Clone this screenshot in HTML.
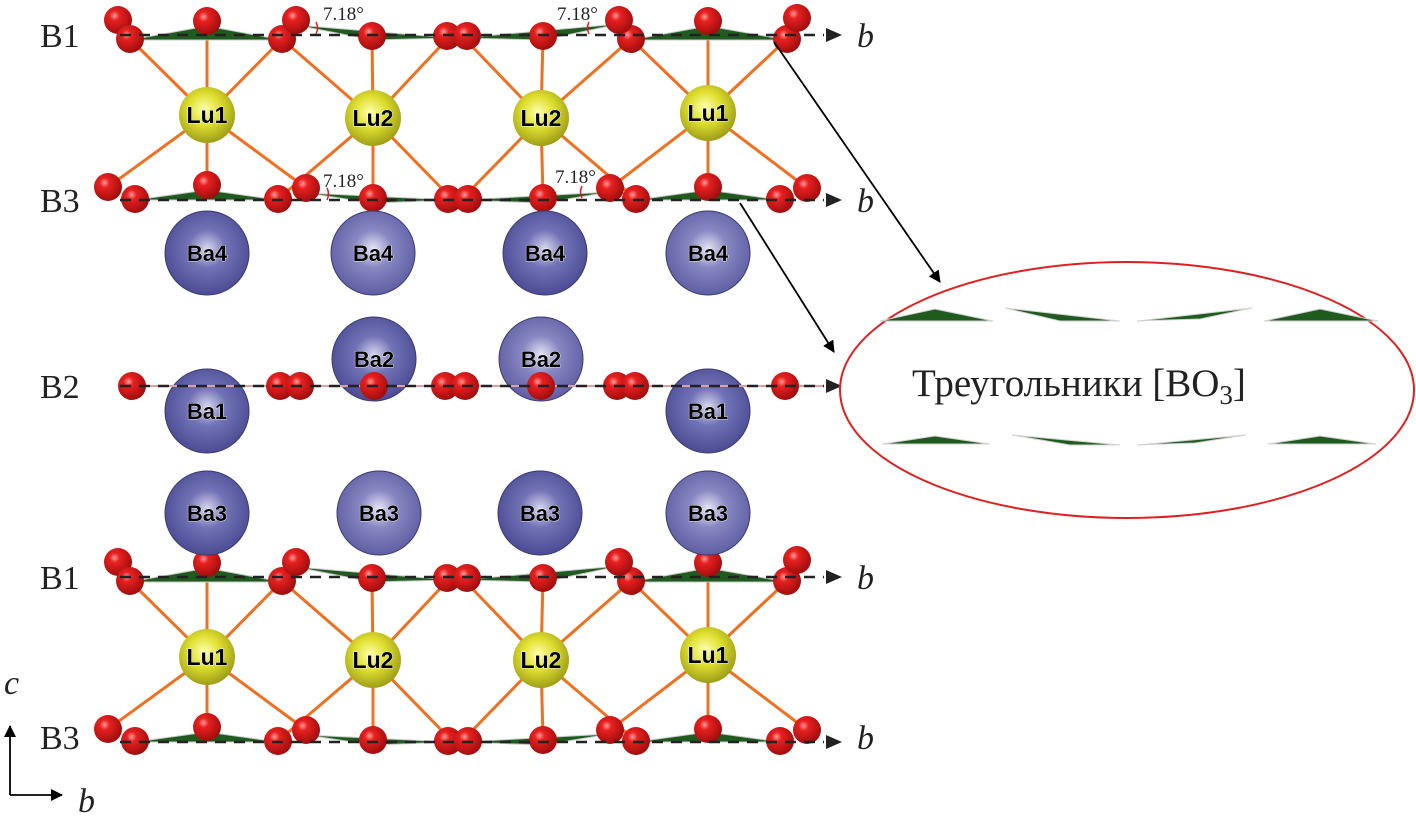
<!DOCTYPE html>
<html><head><meta charset="utf-8"><style>
html,body{margin:0;padding:0;background:#fff;}
svg{display:block;}
.lbl{font-family:"Liberation Serif",serif;font-size:34px;fill:#222;}
.ib{font-family:"Liberation Serif",serif;font-style:italic;font-size:34px;fill:#222;}
.ang{font-family:"Liberation Serif",serif;font-size:19px;fill:#222;}
.at{font-family:"Liberation Sans",sans-serif;font-weight:bold;font-size:23px;fill:#000;text-anchor:middle;stroke:#fff;stroke-width:0.8;paint-order:stroke;}
.ba{font-size:22px;}
</style></head><body>
<svg width="1416" height="824" viewBox="0 0 1416 824" xmlns="http://www.w3.org/2000/svg">
<defs>
<radialGradient id="gO" cx="0.38" cy="0.35" r="0.7"><stop offset="0" stop-color="#ff9a9a"/><stop offset="0.25" stop-color="#e82020"/><stop offset="1" stop-color="#9a0c0c"/></radialGradient>
<radialGradient id="gL" cx="0.45" cy="0.4" r="0.7"><stop offset="0" stop-color="#ffffb0"/><stop offset="0.4" stop-color="#e0e030"/><stop offset="1" stop-color="#8a8a10"/></radialGradient>
<radialGradient id="gB" cx="0.5" cy="0.45" r="0.65"><stop offset="0" stop-color="#d8d8f0"/><stop offset="0.35" stop-color="#7272b6"/><stop offset="1" stop-color="#40408a"/></radialGradient>
<radialGradient id="gB2" cx="0.5" cy="0.45" r="0.65"><stop offset="0" stop-color="#e6e6f6"/><stop offset="0.35" stop-color="#8787c2"/><stop offset="1" stop-color="#52529a"/></radialGradient>
<marker id="ah" markerWidth="12" markerHeight="12" refX="11" refY="6" orient="auto" markerUnits="userSpaceOnUse"><path d="M0,0 L12,6 L0,12 z" fill="#000"/></marker>
<g id="blk">
 <g stroke="#f07020" stroke-width="3">
  <line x1="207" y1="115" x2="130" y2="39"/><line x1="207" y1="115" x2="207" y2="21"/><line x1="207" y1="115" x2="282" y2="39"/>
  <line x1="207" y1="115" x2="108" y2="187"/><line x1="207" y1="115" x2="207" y2="183"/><line x1="207" y1="115" x2="306" y2="188"/>
  <line x1="373" y1="118" x2="282" y2="39"/><line x1="373" y1="118" x2="372" y2="36"/><line x1="373" y1="118" x2="450" y2="36"/>
  <line x1="373" y1="118" x2="278" y2="199"/><line x1="373" y1="118" x2="373" y2="198"/><line x1="373" y1="118" x2="452" y2="199"/>
  <line x1="541" y1="118" x2="462" y2="36"/><line x1="541" y1="118" x2="543" y2="36"/><line x1="541" y1="118" x2="631" y2="39"/>
  <line x1="541" y1="118" x2="462" y2="199"/><line x1="541" y1="118" x2="543" y2="198"/><line x1="541" y1="118" x2="636" y2="199"/>
  <line x1="708" y1="113" x2="631" y2="39"/><line x1="708" y1="113" x2="708" y2="21"/><line x1="708" y1="113" x2="787" y2="39"/>
  <line x1="708" y1="113" x2="610" y2="188"/><line x1="708" y1="113" x2="708" y2="188"/><line x1="708" y1="113" x2="807" y2="188"/>
 </g>
 <g fill="#1f5a1f" stroke="#c8c8c8" stroke-width="1">
  <polygon points="130,40 207,26 282,40"/><polygon points="296,25 372,40 450,38"/><polygon points="462,38 543,40 619,24"/><polygon points="631,40 708,26 787,40"/>
  <polygon points="135,200 207,190 278,200"/><polygon points="306,193 373,203 452,200"/><polygon points="462,200 543,203 610,192"/><polygon points="636,200 708,190 780,200"/>
 </g>
 <g fill="url(#gO)">
  <circle cx="118" cy="20" r="14"/><circle cx="130" cy="39" r="14"/><circle cx="207" cy="21" r="14"/><circle cx="282" cy="39" r="14"/><circle cx="296" cy="20" r="14"/>
  <circle cx="372" cy="36" r="14"/><circle cx="447" cy="36" r="14"/><circle cx="467" cy="36" r="14"/><circle cx="543" cy="36" r="14"/>
  <circle cx="631" cy="39" r="14"/><circle cx="619" cy="20" r="14"/><circle cx="708" cy="21" r="14"/><circle cx="787" cy="39" r="14"/><circle cx="797" cy="18" r="14"/>
  <circle cx="135" cy="199" r="14"/><circle cx="108" cy="187" r="14"/><circle cx="207" cy="185" r="14"/><circle cx="278" cy="199" r="14"/><circle cx="306" cy="188" r="14"/>
  <circle cx="373" cy="198" r="14"/><circle cx="448" cy="199" r="14"/><circle cx="468" cy="199" r="14"/><circle cx="543" cy="198" r="14"/>
  <circle cx="636" cy="199" r="14"/><circle cx="610" cy="188" r="14"/><circle cx="708" cy="187" r="14"/><circle cx="780" cy="199" r="14"/><circle cx="807" cy="188" r="14"/>
 </g>
 <g fill="url(#gL)">
  <circle cx="207" cy="115" r="28"/><circle cx="373" cy="118" r="28"/><circle cx="541" cy="118" r="28"/><circle cx="708" cy="113" r="28"/>
 </g>
 <g stroke="#222" stroke-width="2.5" stroke-dasharray="11,8" fill="none">
  <line x1="120" y1="35" x2="824" y2="35"/><line x1="120" y1="200" x2="824" y2="200"/>
 </g>
 <g fill="#222"><path d="M826,28 L842,35 L826,42 z"/><path d="M826,193 L842,200 L826,207 z"/></g>
</g>
</defs>
<use href="#blk"/>
<use href="#blk" transform="translate(0,542)"/>
<g stroke="#e02020" stroke-width="1.5" fill="none">
 <path d="M316,22 q3,6 0,12"/><path d="M589,22 q-3,6 0,12"/><path d="M327,188 q3,6 0,12"/><path d="M582,186 q-3,6 0,12"/>
</g>

<g stroke="#3a3a70" stroke-width="1">
 <circle cx="207" cy="253" r="42" fill="url(#gB)"/><circle cx="373" cy="253" r="42" fill="url(#gB2)"/><circle cx="545" cy="253" r="42" fill="url(#gB)"/><circle cx="708" cy="253" r="42" fill="url(#gB2)"/>
 <circle cx="374" cy="359" r="42" fill="url(#gB)"/><circle cx="541" cy="359" r="42" fill="url(#gB2)"/>
 <circle cx="207" cy="411" r="42" fill="url(#gB)"/><circle cx="708" cy="411" r="42" fill="url(#gB)"/>
 <circle cx="207" cy="513" r="42" fill="url(#gB)"/><circle cx="379" cy="513" r="42" fill="url(#gB2)"/><circle cx="540" cy="513" r="42" fill="url(#gB)"/><circle cx="708" cy="513" r="42" fill="url(#gB2)"/>
</g>
<line x1="130" y1="386" x2="824" y2="386" stroke="#e0a0a0" stroke-width="2"/>
<g fill="url(#gO)">
 <circle cx="132" cy="386" r="14"/><circle cx="280" cy="386" r="14"/><circle cx="300" cy="386" r="14"/><circle cx="374" cy="386" r="14"/>
 <circle cx="445" cy="386" r="14"/><circle cx="465" cy="386" r="14"/><circle cx="541" cy="386" r="14"/><circle cx="617" cy="386" r="14"/><circle cx="635" cy="386" r="14"/><circle cx="785" cy="386" r="14"/>
</g>
<line x1="120" y1="386" x2="824" y2="386" stroke="#222" stroke-width="2.5" stroke-dasharray="11,8"/>
<path d="M826,379 L842,386 L826,393 z" fill="#222"/>

<g class="at">
 <text x="207" y="123">Lu1</text><text x="373" y="126">Lu2</text><text x="541" y="126">Lu2</text><text x="708" y="121">Lu1</text>
 <text x="207" y="665">Lu1</text><text x="373" y="668">Lu2</text><text x="541" y="668">Lu2</text><text x="708" y="663">Lu1</text>
</g>
<g class="at ba">
 <text x="207" y="261">Ba4</text><text x="373" y="261">Ba4</text><text x="545" y="261">Ba4</text><text x="708" y="261">Ba4</text>
 <text x="374" y="367">Ba2</text><text x="541" y="367">Ba2</text>
 <text x="207" y="419">Ba1</text><text x="708" y="419">Ba1</text>
 <text x="207" y="521">Ba3</text><text x="379" y="521">Ba3</text><text x="540" y="521">Ba3</text><text x="708" y="521">Ba3</text>
</g>

<g class="lbl">
 <text x="40" y="47">B1</text><text x="40" y="212">B3</text><text x="40" y="398">B2</text><text x="40" y="589">B1</text><text x="40" y="749">B3</text>
</g>
<g class="ib">
 <text x="857" y="47">b</text><text x="857" y="212">b</text><text x="857" y="589">b</text><text x="857" y="749">b</text>
 <text x="4" y="694">c</text><text x="78" y="812">b</text>
</g>
<g class="ang">
 <text x="323" y="20">7.18°</text><text x="557" y="20">7.18°</text><text x="323" y="187">7.18°</text><text x="555" y="183">7.18°</text>
</g>

<g stroke="#000" stroke-width="1.8" fill="none">
 <line x1="10" y1="795" x2="10" y2="726" marker-end="url(#ah)"/>
 <line x1="10" y1="795" x2="62" y2="795" marker-end="url(#ah)"/>
</g>

<g stroke="#000" stroke-width="1.8">
 <line x1="774" y1="42" x2="940" y2="282" marker-end="url(#ah)"/>
 <line x1="740" y1="203" x2="834" y2="352" marker-end="url(#ah)"/>
</g>

<ellipse cx="1127" cy="390" rx="287" ry="128" fill="none" stroke="#e02020" stroke-width="2"/>
<g fill="#1f5a1f" stroke="#d0d0d0" stroke-width="1">
 <polygon points="880,321 935,309 993,321"/><polygon points="1005,308 1060,321 1120,321"/><polygon points="1137,321 1200,319 1252,308"/><polygon points="1264,321 1320,309 1378,321"/>
 <polygon points="882,444 935,436 990,444"/><polygon points="1012,435 1070,445 1120,445"/><polygon points="1137,445 1195,443 1246,435"/><polygon points="1268,444 1320,436 1376,444"/>
</g>
<text x="912" y="396" style="font-family:'Liberation Serif',serif;font-size:39px;fill:#222;">Треугольники [BO<tspan font-size="27" dy="8">3</tspan><tspan dy="-8">]</tspan></text>
</svg>
</body></html>
